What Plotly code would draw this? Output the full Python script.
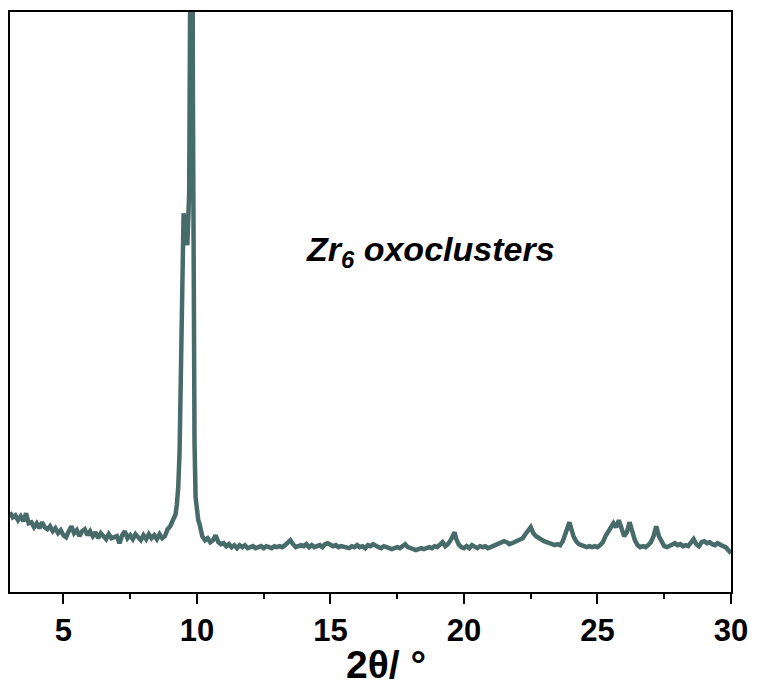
import plotly.graph_objects as go

# Powder XRD pattern of Zr6 oxoclusters (2-theta in degrees, intensity in counts)
two_theta = [
    3.0, 3.1, 3.2, 3.3, 3.4, 3.5, 3.6, 3.7, 3.8, 3.9,
    4.0, 4.1, 4.2, 4.3, 4.4, 4.5, 4.6, 4.7, 4.8, 4.9,
    5.0, 5.1, 5.2, 5.3, 5.4, 5.5, 5.6, 5.7, 5.8, 5.9,
    6.0, 6.1, 6.2, 6.3, 6.4, 6.5, 6.6, 6.7, 6.8, 6.9,
    7.0, 7.1, 7.2, 7.3, 7.4, 7.5, 7.6, 7.7, 7.8, 7.9,
    8.0, 8.1, 8.2, 8.3, 8.4, 8.5, 8.6, 8.7, 8.8, 8.9,
    9.0, 9.1, 9.2, 9.25, 9.3, 9.35, 9.4, 9.45, 9.5, 9.56,
    9.64, 9.71, 9.77, 9.81, 9.85, 9.88, 9.91, 9.95, 10.0, 10.05,
    10.1, 10.2, 10.3, 10.4, 10.5, 10.6, 10.7, 10.8, 10.9,
    11.0, 11.1, 11.2, 11.3, 11.4, 11.5, 11.6, 11.7, 11.8, 11.9,
    12.0, 12.1, 12.2, 12.3, 12.4, 12.5, 12.6, 12.7, 12.8, 12.9,
    13.0, 13.1, 13.2, 13.3, 13.4, 13.5, 13.6, 13.7, 13.8, 13.9,
    14.0, 14.1, 14.2, 14.3, 14.4, 14.5, 14.6, 14.7, 14.8, 14.9,
    15.0, 15.1, 15.2, 15.3, 15.4, 15.5, 15.6, 15.7, 15.8, 15.9,
    16.0, 16.1, 16.2, 16.3, 16.4, 16.5, 16.6, 16.7, 16.8, 16.9,
    17.0, 17.1, 17.2, 17.3, 17.4, 17.5, 17.6, 17.7, 17.8, 17.9,
    18.0, 18.1, 18.2, 18.3, 18.4, 18.5, 18.6, 18.7, 18.8, 18.9,
    19.0, 19.1, 19.2, 19.3, 19.4, 19.5, 19.6, 19.65, 19.7, 19.8, 19.9,
    20.0, 20.1, 20.2, 20.3, 20.4, 20.5, 20.6, 20.7, 20.8, 20.9,
    21.0, 21.1, 21.2, 21.3, 21.4, 21.5, 21.6, 21.7, 21.8, 21.9,
    22.0, 22.1, 22.2, 22.3, 22.4, 22.5, 22.55, 22.6, 22.7, 22.8, 22.9,
    23.0, 23.1, 23.2, 23.3, 23.4, 23.5, 23.6, 23.7, 23.8, 23.9, 23.95,
    24.0, 24.1, 24.2, 24.3, 24.4, 24.5, 24.6, 24.7, 24.8, 24.9,
    25.0, 25.1, 25.2, 25.3, 25.4, 25.5, 25.6, 25.7, 25.8, 25.9,
    26.0, 26.1, 26.2, 26.3, 26.4, 26.5, 26.6, 26.7, 26.8, 26.9,
    27.0, 27.1, 27.2, 27.3, 27.4, 27.5, 27.6, 27.7, 27.8, 27.9,
    28.0, 28.1, 28.2, 28.3, 28.4, 28.5, 28.6, 28.7, 28.8, 28.9,
    29.0, 29.1, 29.2, 29.3, 29.4, 29.5, 29.6, 29.7, 29.8, 29.9, 30.0,
]

intensity = [
    800, 750, 770, 720, 760, 710, 790, 690, 700, 650,
    690, 640, 700, 650, 630, 660, 610, 640, 590, 620,
    570, 550, 610, 660, 590, 620, 560, 610, 630, 570,
    610, 560, 600, 540, 590, 550, 530, 580, 540, 550,
    560, 490, 570, 610, 540, 570, 530, 580, 540, 520,
    570, 530, 580, 540, 570, 530, 580, 540, 560, 630,
    660, 710, 780, 880, 1050, 1400, 2100, 3300, 3800, 3680,
    3480, 4000, 7000, 9500, 5000, 2300, 1500, 950, 820, 720,
    680, 560, 520, 540, 500, 520, 570, 500, 480,
    490, 460, 480, 450, 470, 440, 470, 450, 470, 440,
    450, 460, 440, 450, 460, 440, 460, 450, 440, 460,
    450, 460, 450, 470, 490, 520, 480, 450, 460, 470,
    460, 480, 450, 470, 450, 460, 470, 450, 480, 490,
    470, 460, 470, 450, 460, 450, 440, 440, 460, 450,
    470, 450, 460, 440, 470, 460, 480, 460, 450, 440,
    460, 450, 440, 430, 440, 450, 440, 460, 480, 450,
    440, 430, 420, 430, 440, 430, 440, 450, 440, 460,
    450, 470, 500, 460, 480, 520, 590, 600, 540, 480, 450,
    440, 460, 440, 470, 450, 440, 460, 450, 460, 440,
    450, 460, 470, 490, 500, 510, 500, 480, 490, 500,
    510, 520, 540, 580, 620, 650, 620, 590, 560, 540, 530,
    510, 500, 490, 480, 470, 480, 470, 510, 580, 680, 700,
    650, 560, 510, 480, 470, 460, 450, 460, 450, 460,
    450, 470, 500, 560, 610, 660, 690, 650, 720, 640,
    560, 600, 700, 610, 520, 470, 450, 460, 450, 470,
    500, 560, 660, 560, 500, 460, 450, 460, 480, 490,
    470, 480, 460, 470, 460, 490, 530, 480, 460, 500,
    510, 490, 500, 480, 470, 490, 470, 460, 450, 420, 390,
]

x_ticks = [5, 10, 15, 20, 25, 30]
x_range = [3, 30]
y_range = [0, 5820]

line_color = "#476b69"
font_family = "Liberation Sans, Arial, sans-serif"

fig = go.Figure()
fig.add_trace(go.Scatter(
    x=two_theta,
    y=intensity,
    mode="lines",
    line=dict(color=line_color, width=4.5),
    showlegend=False,
))

# Sample label inside the plot
fig.add_annotation(
    x=18.75, y=3420,
    xref="x", yref="y",
    text="<b><i>Zr<sub>6</sub> oxoclusters</i></b>",
    showarrow=False,
    font=dict(family=font_family, size=34, color="black"),
)

# x-axis title
fig.add_annotation(
    x=0.522, y=-0.125,
    xref="paper", yref="paper",
    xanchor="center", yanchor="middle",
    text="<b>2θ/ °</b>",
    showarrow=False,
    font=dict(family=font_family, size=39, color="black"),
)

fig.update_xaxes(
    range=x_range,
    tickvals=x_ticks,
    ticktext=[str(t) for t in x_ticks],
    ticks="outside",
    ticklen=10,
    tickwidth=2,
    tickcolor="black",
    minor=dict(ticks="outside", ticklen=5, tickwidth=2, tickcolor="black", dtick=2.5, tick0=2.5),
    showline=True,
    linecolor="black",
    linewidth=2,
    mirror=True,
    showgrid=False,
    zeroline=False,
    tickfont=dict(family=font_family, size=31, color="black", weight="bold"),
)

fig.update_yaxes(
    range=y_range,
    showticklabels=False,
    ticks="",
    showline=True,
    linecolor="black",
    linewidth=2,
    mirror=True,
    showgrid=False,
    zeroline=False,
)

fig.update_layout(
    width=758,
    height=688,
    margin=dict(l=10, r=23, t=10, b=96),
    paper_bgcolor="white",
    plot_bgcolor="white",
)

fig.write_html("out.html")
